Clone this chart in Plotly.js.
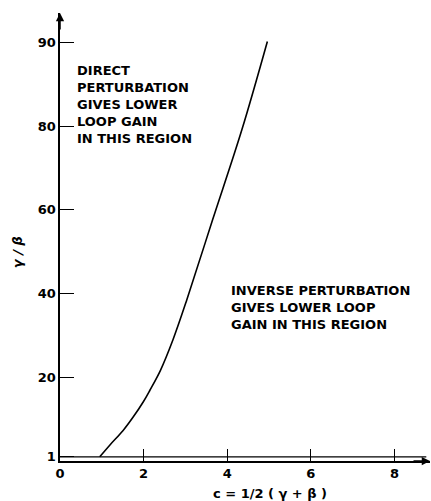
<!DOCTYPE html>
<html>
<head>
<meta charset="utf-8">
<script src="https://cdn.plot.ly/plotly-3.0.1.min.js"></script>
<style>html,body{margin:0;padding:0;background:#fff;}#chart{width:431px;height:501px;}</style>
</head>
<body>
<div id="chart"></div>
<script>
// Curve: c = 1/2(gamma+beta) vs gamma/beta (axis position units)
const cValues = [0.95, 1.2, 1.51, 1.75, 1.99, 2.15, 2.4, 2.7, 3.03, 3.65, 4.35, 4.96];
const ratioValues = [1, 3.9, 7.3, 10.5, 14.1, 16.9, 21.6, 28.9, 38.4, 57.6, 79.1, 100.2];

// Axis ticks (top tick is printed "90" in the original figure)
const xTickVals = [0, 2, 4, 6, 8];
const xTickText = ['0', '2', '4', '6', '8'];
const yTickVals = [1, 20, 40, 60, 80, 100];
const yTickText = ['1', '20', '40', '60', '80', '90'];

const regionLabels = [
  {text: 'DIRECT<br>PERTURBATION<br>GIVES LOWER<br>LOOP GAIN<br>IN THIS REGION', x: 0.35, y: 95.5},
  {text: 'INVERSE PERTURBATION<br>GIVES LOWER LOOP<br>GAIN IN THIS REGION', x: 4.05, y: 43}
];

const FONT = 'DejaVu Sans, Verdana, sans-serif';

const annotations = regionLabels.map(r => ({
  text: r.text, x: r.x, y: r.y, xref: 'x', yref: 'y',
  xanchor: 'left', yanchor: 'top', align: 'left', showarrow: false,
  font: {family: FONT, size: 13, color: '#000', weight: 'bold'}
}));

annotations.push(
  {text: 'c = 1/2 ( γ + β )', xref: 'paper', yref: 'paper', x: (270-60)/370, y: -(493-460.6)/447.6,
   xanchor: 'center', yanchor: 'middle', showarrow: false,
   font: {family: FONT, size: 13, color: '#000', weight: 'bold'}},
  {text: '<i>γ / β</i>', xref: 'paper', yref: 'paper', x: -(60-17)/370, y: (460.6-252)/447.6,
   xanchor: 'center', yanchor: 'middle', textangle: -90, showarrow: false,
   font: {family: FONT, size: 13, color: '#000', weight: 'bold'}},
  // arrow heads at the axis ends
  {text: '', xref: 'paper', yref: 'paper', x: 0, y: 1, ax: 0, ay: 18,
   showarrow: true, arrowhead: 2, arrowsize: 1.1, arrowwidth: 1.5, arrowcolor: '#000'},
  {text: '', xref: 'paper', yref: 'paper', x: 1, y: 0, ax: -18, ay: 0,
   showarrow: true, arrowhead: 2, arrowsize: 1.1, arrowwidth: 1.5, arrowcolor: '#000'}
);

const data = [{
  x: cValues, y: ratioValues, type: 'scatter', mode: 'lines',
  line: {color: '#000', width: 1.6, shape: 'spline', smoothing: 1},
  hoverinfo: 'skip', showlegend: false
}];

const layout = {
  width: 431, height: 501,
  margin: {l: 60, r: 1, t: 13, b: 40.4},
  paper_bgcolor: '#fff', plot_bgcolor: '#fff',
  showlegend: false,
  xaxis: {
    range: [0, 8.85], showgrid: false, zeroline: false,
    showline: true, linecolor: '#000', linewidth: 1.6,
    tickmode: 'array', tickvals: xTickVals, ticktext: xTickText,
    ticks: 'inside', ticklen: 12, tickwidth: 1.1, tickcolor: '#000',
    tickfont: {family: FONT, size: 13, color: '#000', weight: 'bold'},
    fixedrange: true
  },
  yaxis: {
    range: [0, 107], showgrid: false, zeroline: false,
    showline: true, linecolor: '#000', linewidth: 1.6,
    tickmode: 'array', tickvals: yTickVals, ticktext: yTickText,
    ticks: 'inside', ticklen: 14, tickwidth: 1.1, tickcolor: '#000',
    tickfont: {family: FONT, size: 13, color: '#000', weight: 'bold'},
    fixedrange: true
  },
  shapes: [
    {type: 'line', xref: 'paper', yref: 'y', x0: 0, x1: 0.99, y0: 1, y1: 1,
     line: {color: '#000', width: 1.3}}
  ],
  annotations: annotations
};

Plotly.newPlot('chart', data, layout, {staticPlot: true, displayModeBar: false});
</script>
</body>
</html>
